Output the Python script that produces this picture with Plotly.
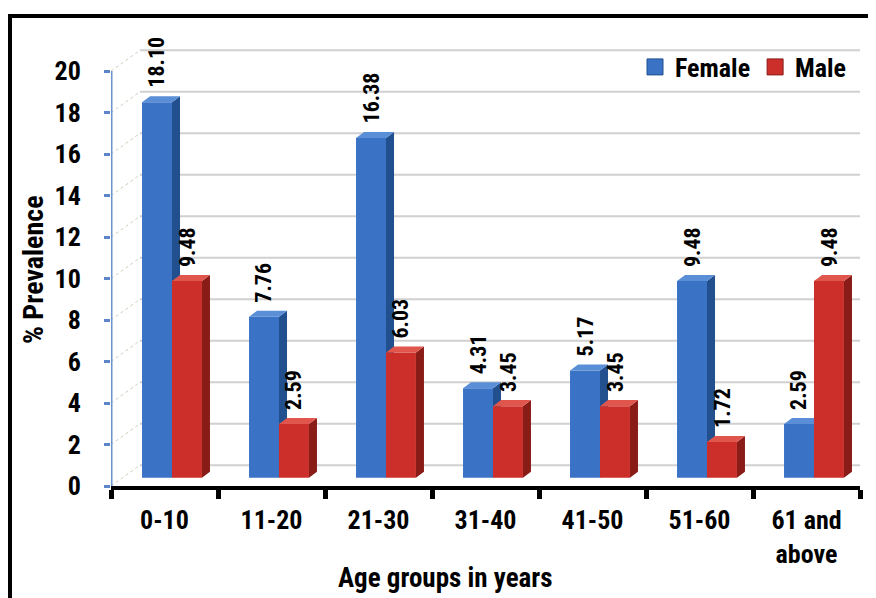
import plotly.graph_objects as go

# ---- data ----
categories = ["0-10", "11-20", "21-30", "31-40", "41-50", "51-60", "61 and<br>above"]
female = [18.10, 7.76, 16.38, 4.31, 5.17, 9.48, 2.59]
male = [9.48, 2.59, 6.03, 3.45, 3.45, 1.72, 9.48]
y_ticks = [0, 2, 4, 6, 8, 10, 12, 14, 16, 18, 20]

FONT = "Liberation Sans Narrow, Arial Narrow, Roboto Condensed, Liberation Sans, Arial"

# page is 876x598; the html body adds an 8px margin, so the figure is drawn 8px in
OFF = 8
W, H = 876 - OFF, 598 - OFF
PL, PR, PT, PB = 111, 860, 40, 486        # plot area in page pixels
ML, MR, MT, MB = PL - OFF, (W + OFF) - PR, PT - OFF, (H + OFF) - PB
PW, PH = PR - PL, PB - PT
def px_x(p):
    return (p - PL) / PW
def px_y(p):
    return (PB - p) / PH

Y_MAX = 21.5
BAR_SHIFT = 0.4      # bars stand slightly behind the front axis plane
BACK_DX, BACK_DY = 0.27, 1.0  # back wall offset (x units, y units)
BW = 0.28            # bar front width
DX, DY = 0.075, 0.29 # 3D depth of a bar

xs = list(range(len(categories)))

fig = go.Figure()

# ---- back wall gridlines, perspective diagonals, front y-axis line ----
for v in y_ticks:
    fig.add_shape(type="line", xref="x", yref="y", x0=-0.5 + BACK_DX, x1=6.5,
                  y0=v + BACK_DY, y1=v + BACK_DY, line=dict(color="#d0d0d0", width=2),
                  layer="below")
    fig.add_shape(type="line", xref="x", yref="y", x0=-0.5, x1=-0.5 + BACK_DX,
                  y0=v, y1=v + BACK_DY, line=dict(color="#cdcdb8", width=1, dash="dot"),
                  layer="below")
fig.add_shape(type="line", xref="x", yref="y", x0=-0.5, x1=-0.5, y0=y_ticks[0], y1=y_ticks[-1],
              line=dict(color="#6b93cf", width=3), layer="below")


def add_series(vals, off, front, side, top, name, yax):
    fig.add_trace(go.Bar(x=xs, y=vals, width=BW, offset=off, name=name, yaxis=yax,
                         showlegend=False, marker=dict(color=front, line=dict(width=0))))
    sx, sy, tx, ty = [], [], [], []
    for i, v in zip(xs, vals):
        x0 = i + off
        x1 = x0 + BW
        sx += [x1, x1 + DX, x1 + DX, x1, x1, None]
        sy += [0, DY, v + DY, v, 0, None]
        tx += [x0, x0 + DX, x1 + DX, x1, x0, None]
        ty += [v, v + DY, v + DY, v, v, None]
    fig.add_trace(go.Scatter(x=sx, y=sy, mode="lines", fill="toself", fillcolor=side,
                             line=dict(width=0, color=side), yaxis=yax, showlegend=False,
                             hoverinfo="skip"))
    fig.add_trace(go.Scatter(x=tx, y=ty, mode="lines", fill="toself", fillcolor=top,
                             line=dict(width=0, color=top), yaxis=yax, showlegend=False,
                             hoverinfo="skip", cliponaxis=False))
    # legend proxy (square swatch)
    fig.add_trace(go.Scatter(x=[None], y=[None], mode="markers", name=name, yaxis=yax,
                             marker=dict(symbol="square", size=17, color=front,
                                         line=dict(color=side, width=1))))
    for i, v in zip(xs, vals):
        fig.add_annotation(x=i + off + BW / 2, y=v, xref="x", yref=yax, text=f"{v:.2f}",
                           textangle=-90, showarrow=False, yanchor="bottom", yshift=12,
                           font=dict(family=FONT, size=22, color="black", weight="bold"))


add_series(female, -0.21, "#3a72c6", "#22508f", "#5a8fd8", "Female", "y2")
add_series(male, 0.07, "#cc2f2a", "#8a1c18", "#e0554c", "Male", "y3")

fig.update_layout(
    width=W, height=H,
    margin=dict(l=ML, r=MR, t=MT, b=MB, autoexpand=False),
    paper_bgcolor="white", plot_bgcolor="white",
    barmode="overlay",
    font=dict(family=FONT, color="black"),
    xaxis=dict(range=[-0.5, 6.5], tickmode="array", tickvals=xs, ticktext=categories,
               ticks="", showgrid=False, zeroline=False, showline=True, automargin=False,
               linecolor="black", linewidth=4, ticklabelstandoff=8,
               tickfont=dict(family=FONT, size=26, weight="bold", color="black"),
               minor=dict(tickmode="array", tickvals=[x - 0.5 for x in xs] + [6.5],
                          ticks="outside", ticklen=9, tickwidth=5, tickcolor="black",
                          showgrid=False)),
    yaxis=dict(range=[0, Y_MAX], tickmode="array", tickvals=y_ticks, showgrid=False,
               zeroline=False, showline=False, ticks="outside", ticklen=6, tickwidth=3,
               tickcolor="#5b86c8", ticklabelstandoff=18, automargin=False,
               tickfont=dict(family=FONT, size=26, weight="bold", color="black")),
    yaxis2=dict(range=[-BAR_SHIFT, Y_MAX - BAR_SHIFT], overlaying="y", visible=False),
    yaxis3=dict(range=[-BAR_SHIFT, Y_MAX - BAR_SHIFT], overlaying="y", visible=False),
    legend=dict(orientation="h", x=px_x(852), y=px_y(67), xanchor="right", yanchor="middle",
                bgcolor="rgba(0,0,0,0)", font=dict(family=FONT, size=26, weight="bold"),
                itemwidth=30, traceorder="normal"),
    showlegend=True,
)

# axis titles
fig.add_annotation(x=px_x(445), y=px_y(578), xref="paper", yref="paper", text="Age groups in years",
                   xanchor="center", yanchor="middle", showarrow=False,
                   font=dict(family=FONT, size=27, weight="bold", color="black"))
fig.add_annotation(x=px_x(33), y=px_y(270), xref="paper", yref="paper", text="% Prevalence",
                   textangle=-90, xanchor="center", yanchor="middle", showarrow=False,
                   font=dict(family=FONT, size=28, weight="bold", color="black"))

# outer black frame
fig.add_shape(type="rect", xref="paper", yref="paper", x0=px_x(10), y0=px_y(610),
              x1=px_x(890), y1=px_y(16), line=dict(color="black", width=4), layer="above")

fig.write_html("out.html")
